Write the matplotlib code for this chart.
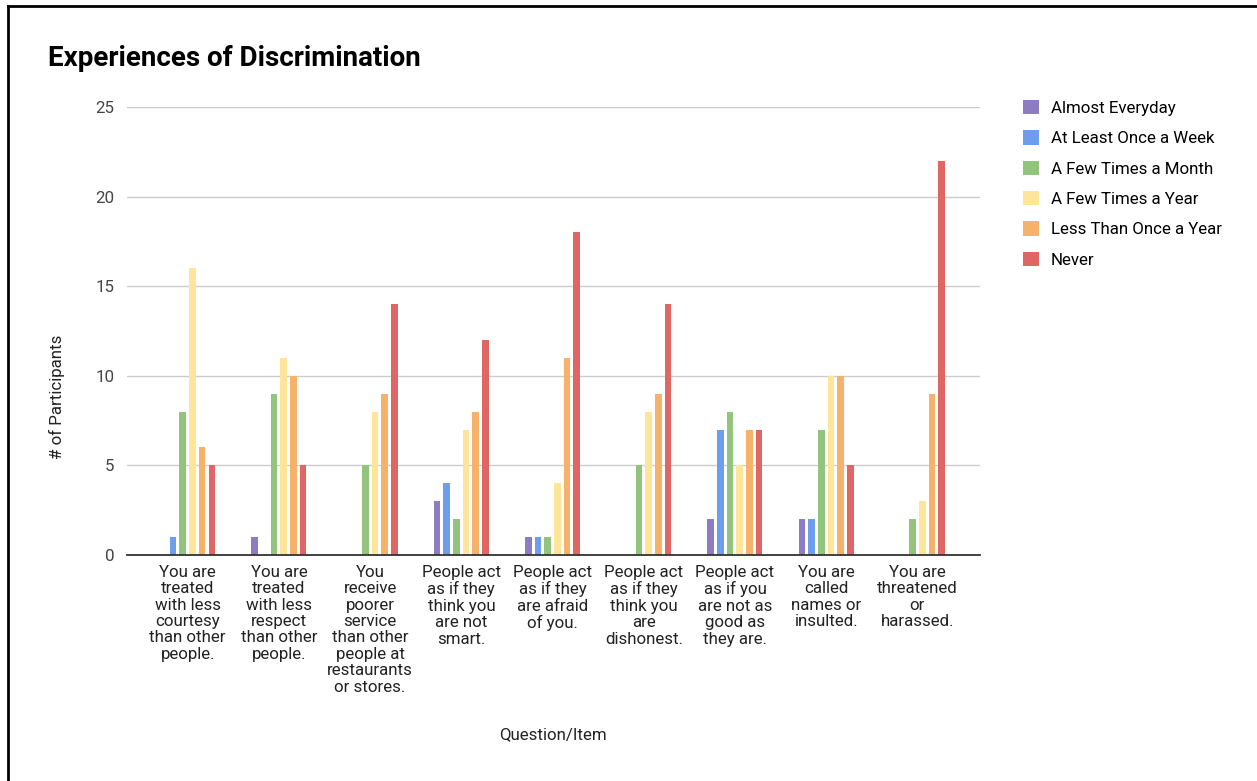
import numpy as np
import matplotlib.pyplot as plt
from matplotlib.lines import Line2D

plt.rcParams['font.family'] = ['Roboto', 'DejaVu Sans']

categories = [
    "You are\ntreated\nwith less\ncourtesy\nthan other\npeople.",
    "You are\ntreated\nwith less\nrespect\nthan other\npeople.",
    "You\nreceive\npoorer\nservice\nthan other\npeople at\nrestaurants\nor stores.",
    "People act\nas if they\nthink you\nare not\nsmart.",
    "People act\nas if they\nare afraid\nof you.",
    "People act\nas if they\nthink you\nare\ndishonest.",
    "People act\nas if you\nare not as\ngood as\nthey are.",
    "You are\ncalled\nnames or\ninsulted.",
    "You are\nthreatened\nor\nharassed.",
]
series_names = ["Almost Everyday", "At Least Once a Week", "A Few Times a Month",
                "A Few Times a Year", "Less Than Once a Year", "Never"]
almost_everyday = [0, 1, 0, 3, 1, 0, 2, 2, 0]
once_a_week = [1, 0, 0, 4, 1, 0, 7, 2, 0]
few_month = [8, 9, 5, 2, 1, 5, 8, 7, 2]
few_year = [16, 11, 8, 7, 4, 8, 5, 10, 3]
less_once_year = [6, 10, 9, 8, 11, 9, 7, 10, 9]
never = [5, 5, 14, 12, 18, 14, 7, 5, 22]
series = [almost_everyday, once_a_week, few_month, few_year, less_once_year, never]
colors = ['#8e7cc3', '#6d9eeb', '#93c47d', '#ffe599', '#f6b26b', '#e06666']

fig = plt.figure(figsize=(12.57, 7.81), dpi=100)
ax = fig.add_axes([127/1257, 1-555/781, 853/1257, 448/781])

x = np.arange(len(categories))
step = 0.106
width = 0.073
for i, (vals, name, c) in enumerate(zip(series, series_names, colors)):
    ax.bar(x + (i - 2.5) * step, vals, width, color=c, label=name, zorder=3)

ax.set_xlim(-0.665, 8.686)
ax.set_ylim(0, 25)
ax.set_yticks([0, 5, 10, 15, 20, 25])
ax.grid(axis='y', color='#cccccc', linewidth=1, zorder=0)
for s in ['top', 'right', 'left']:
    ax.spines[s].set_visible(False)
ax.spines['bottom'].set_color('#333333')
ax.spines['bottom'].set_linewidth(1.3)
ax.spines['bottom'].set_zorder(4)
ax.set_xticks(x)
ax.set_xticklabels(categories, fontsize=12.2, color='#222222', linespacing=1.12)
ax.tick_params(axis='x', length=0, pad=7)
ax.tick_params(axis='y', length=0, pad=9, labelsize=12.2, labelcolor='#444444')

fig.text(48/1257, 1-58/781, "Experiences of Discrimination", fontsize=20,
         fontweight='bold', va='center', ha='left', color='black')
fig.text(57/1257, 1-397/781, "# of Participants", rotation=90, fontsize=12.2,
         va='center', ha='center', color='#222222')
fig.text(553/1257, 1-735/781, "Question/Item", fontsize=12.2,
         va='center', ha='center', color='#222222')

ax.legend(loc='upper left', bbox_to_anchor=(1016/1257, 1-93/781),
          bbox_transform=fig.transFigure, frameon=False, fontsize=12.2,
          handlelength=0.95, handleheight=0.95, labelspacing=0.84,
          handletextpad=0.7, borderaxespad=0)

fig.add_artist(Line2D([8/1257, 8/1257], [0, 1-6/781], transform=fig.transFigure,
                      color='black', linewidth=2))
fig.add_artist(Line2D([8/1257, 1], [1-6/781, 1-6/781], transform=fig.transFigure,
                      color='black', linewidth=2))

fig.savefig('out.png', dpi=100)
